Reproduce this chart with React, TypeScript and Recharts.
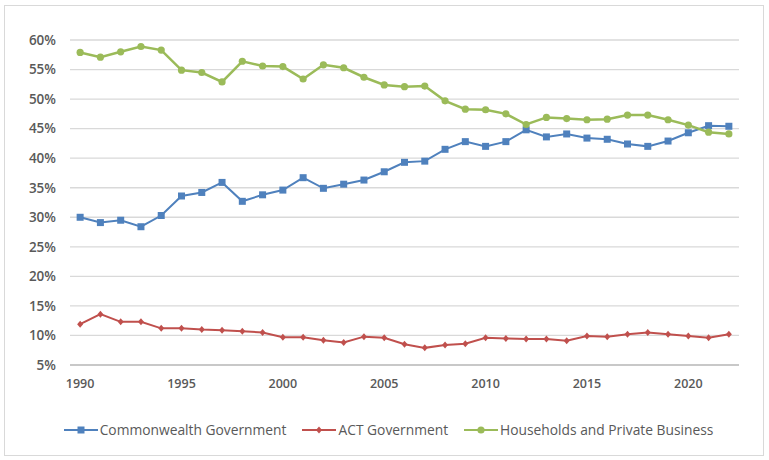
import React from 'react'
import {
  LineChart,
  Line,
  XAxis,
  YAxis,
  CartesianGrid,
  Legend,
} from 'recharts'

const years = [
  1990, 1991, 1992, 1993, 1994, 1995, 1996, 1997, 1998, 1999, 2000, 2001,
  2002, 2003, 2004, 2005, 2006, 2007, 2008, 2009, 2010, 2011, 2012, 2013,
  2014, 2015, 2016, 2017, 2018, 2019, 2020, 2021, 2022,
]

const commonwealth = [
  30.0, 29.1, 29.5, 28.4, 30.3, 33.6, 34.2, 35.9, 32.7, 33.8, 34.6, 36.7,
  34.9, 35.6, 36.3, 37.7, 39.3, 39.5, 41.5, 42.8, 42.0, 42.8, 44.8, 43.6,
  44.1, 43.4, 43.2, 42.4, 42.0, 42.9, 44.3, 45.5, 45.4,
]

const act = [
  11.9, 13.6, 12.3, 12.3, 11.2, 11.2, 11.0, 10.9, 10.7, 10.5, 9.7, 9.7,
  9.2, 8.8, 9.8, 9.6, 8.5, 7.9, 8.4, 8.6, 9.6, 9.5, 9.4, 9.4,
  9.1, 9.9, 9.8, 10.2, 10.5, 10.2, 9.9, 9.6, 10.2,
]

const households = [
  57.9, 57.1, 58.0, 58.9, 58.3, 54.9, 54.5, 52.9, 56.4, 55.6, 55.5, 53.4,
  55.8, 55.3, 53.7, 52.4, 52.1, 52.2, 49.7, 48.3, 48.2, 47.5, 45.7, 46.9,
  46.7, 46.5, 46.6, 47.3, 47.3, 46.5, 45.6, 44.4, 44.1,
]

const yTicks = [5, 10, 15, 20, 25, 30, 35, 40, 45, 50, 55, 60]

const BLUE = '#4F81BD'
const RED = '#C0504D'
const GREEN = '#9BBB59'
const TEXT = '#595959'

const data = years.map((year, i) => ({
  year: String(year),
  idx: i + 0.5,
  commonwealth: commonwealth[i],
  act: act[i],
  households: households[i],
}))

// category boundaries for the little tick marks under the axis
const boundaryTicks = years.map((_, i) => i).concat(years.length)

const SquareDot = (props: any) => {
  const { cx, cy, key } = props
  if (cx == null || cy == null) return null
  return <rect key={key} x={cx - 3.5} y={cy - 3.5} width={7} height={7} fill={BLUE} />
}

const DiamondDot = (props: any) => {
  const { cx, cy, key } = props
  if (cx == null || cy == null) return null
  return (
    <path
      key={key}
      d={`M${cx},${cy - 3.5}L${cx + 3},${cy}L${cx},${cy + 3.5}L${cx - 3},${cy}Z`}
      fill={RED}
    />
  )
}

const CircleDot = (props: any) => {
  const { cx, cy, key } = props
  if (cx == null || cy == null) return null
  return <circle key={key} cx={cx} cy={cy} r={3.6} fill={GREEN} />
}

const legendItems = [
  { label: 'Commonwealth Government', color: BLUE, marker: 'square' },
  { label: 'ACT Government', color: RED, marker: 'diamond' },
  { label: 'Households and Private Business', color: GREEN, marker: 'circle' },
]

function LegendIcon({ color, marker }: { color: string; marker: string }) {
  return (
    <svg width={34} height={12} style={{ display: 'block' }}>
      <line x1={0} y1={6} x2={34} y2={6} stroke={color} strokeWidth={2} />
      {marker === 'square' && <rect x={13.5} y={2.5} width={7} height={7} fill={color} />}
      {marker === 'diamond' && <path d="M17,2.5L20,6L17,9.5L14,6Z" fill={color} />}
      {marker === 'circle' && <circle cx={17} cy={6} r={3.6} fill={color} />}
    </svg>
  )
}

function ChartLegend() {
  return (
    <div style={{ display: 'flex', justifyContent: 'center', gap: 16, paddingLeft: 8 }}>
      {legendItems.map((item) => (
        <div key={item.label} style={{ display: 'flex', alignItems: 'center', gap: 2 }}>
          <LegendIcon color={item.color} marker={item.marker} />
          <span style={{ color: TEXT, fontSize: 13.8, fontFamily: 'Open Sans' }}>{item.label}</span>
        </div>
      ))}
    </div>
  )
}

export default function App() {
  return (
    <div style={{ position: 'absolute', left: 0, top: 0, width: 769, height: 460, background: '#fff' }}>
      <div
        style={{
          position: 'absolute',
          left: 4,
          top: 5,
          width: 758,
          height: 449,
          border: '1px solid #d9d9d9',
        }}
      />
      <LineChart
        width={769}
        height={460}
        data={data}
        margin={{ top: 40, right: 30, bottom: 65, left: 0 }}
        style={{ fontFamily: 'Open Sans' }}
      >
        <CartesianGrid vertical={false} stroke="#d9d9d9" strokeWidth={1.3} />
        <XAxis
          xAxisId="minor"
          type="number"
          dataKey="idx"
          domain={[0, years.length]}
          ticks={boundaryTicks}
          tickFormatter={() => ''}
          height={0}
          axisLine={false}
          tickSize={5}
          tickLine={{ stroke: '#b0b0b0' }}
          allowDataOverflow
        />
        <XAxis
          dataKey="year"
          scale="band"
          interval={4}
          height={30}
          tickLine={false}
          tickSize={0}
          tickMargin={14}
          axisLine={{ stroke: '#bfbfbf', strokeWidth: 1.3 }}
          tick={{ fill: TEXT, fontSize: 12.5, fontWeight: 600 }}
        />
        <YAxis
          domain={[5, 60]}
          ticks={yTicks}
          width={70}
          axisLine={false}
          tickLine={false}
          tickSize={0}
          tickMargin={14}
          tickFormatter={(v: number) => `${v}%`}
          tick={{ fill: TEXT, fontSize: 13.5, fontWeight: 600 }}
        />
        <Legend
          layout="horizontal"
          verticalAlign="middle"
          align="center"
          wrapperStyle={{ top: 420, left: 0, width: 769 }}
          content={() => <ChartLegend />}
        />
        <Line
          dataKey="commonwealth"
          name="Commonwealth Government"
          stroke={BLUE}
          strokeWidth={2}
          dot={SquareDot}
          activeDot={false}
          isAnimationActive={false}
        />
        <Line
          dataKey="act"
          name="ACT Government"
          stroke={RED}
          strokeWidth={2}
          dot={DiamondDot}
          activeDot={false}
          isAnimationActive={false}
        />
        <Line
          dataKey="households"
          name="Households and Private Business"
          stroke={GREEN}
          strokeWidth={2.5}
          dot={CircleDot}
          activeDot={false}
          isAnimationActive={false}
        />
      </LineChart>
    </div>
  )
}
